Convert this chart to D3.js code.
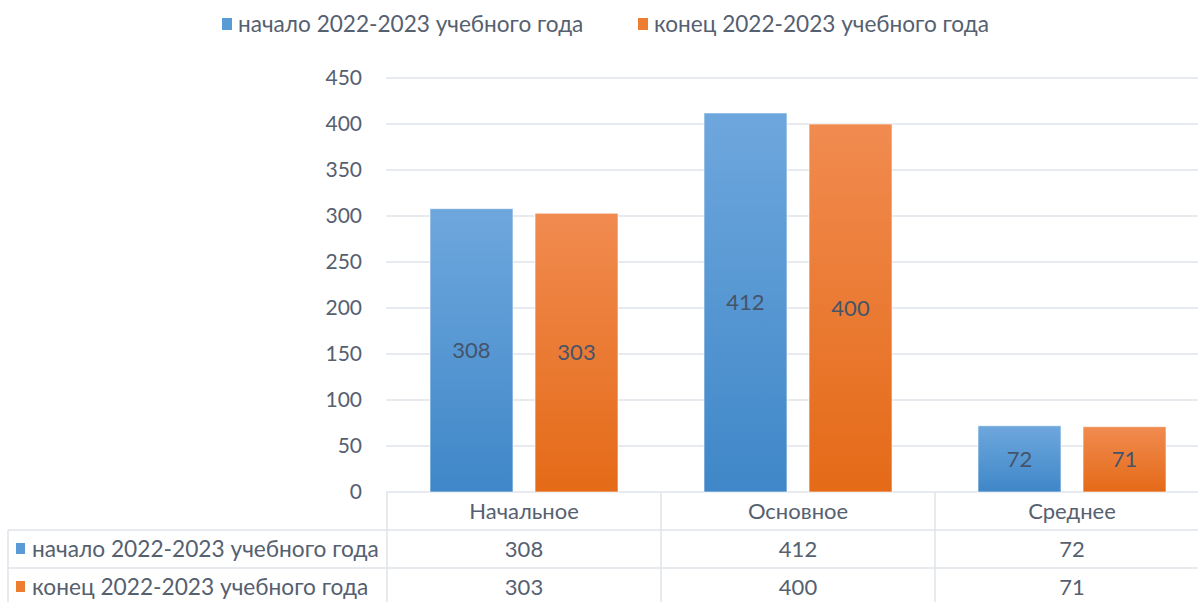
<!DOCTYPE html>
<html>
<head>
<meta charset="utf-8">
<script src="https://cdn.jsdelivr.net/npm/d3@7"></script>
<style>
  body { margin: 0; background: #fff; }
  svg { display: block; font-family: Lato, "Open Sans", sans-serif; }
</style>
</head>
<body>
<script>
// chart data
let categories = ["Начальное", "Основное", "Среднее"];
let seriesNames = ["начало 2022-2023 учебного года", "конец 2022-2023 учебного года"];
let startValues = [308, 412, 72];
let endValues = [303, 400, 71];
let yTicks = [0, 50, 100, 150, 200, 250, 300, 350, 400, 450];

let w = 1198, h = 602;
let textColor = "#556070";
let lineColor = "#dfe3ea";
let colors = ["#5b9bd5", "#ed7d31"];
let fs = 22;

let svg = d3.select("body").append("svg")
    .attr("width", w)
    .attr("height", h);

// gradients like the Excel bar fill
let defs = svg.append("defs");
let grads = [["gBlue", "#6ea7dd", "#3f87c8"], ["gOrange", "#f18b50", "#e46a17"]];
grads.forEach(function (g) {
    let lg = defs.append("linearGradient").attr("id", g[0])
        .attr("x1", 0).attr("y1", 0).attr("x2", 0).attr("y2", 1);
    lg.append("stop").attr("offset", "0%").attr("stop-color", g[1]);
    lg.append("stop").attr("offset", "100%").attr("stop-color", g[2]);
});

let plotLeft = 387, plotRight = 1209, plotTop = 78, plotBottom = 492;

let x = d3.scaleBand().domain(categories).range([plotLeft, plotRight]);
let x1 = d3.scaleBand().domain([0, 1]).range([43, x.bandwidth() - 43]).paddingInner(0.21);
let y = d3.scaleLinear().domain([0, 450]).range([plotBottom, plotTop]);

// gridlines
svg.append("g").selectAll("line").data(yTicks).enter().append("line")
    .attr("x1", plotLeft - 1).attr("x2", w)
    .attr("y1", d => y(d)).attr("y2", d => y(d))
    .attr("stroke", lineColor).attr("stroke-width", 1.5);

// y axis labels
svg.append("g").selectAll("text").data(yTicks).enter().append("text")
    .attr("x", 362).attr("y", d => y(d))
    .attr("dy", "0.35em")
    .attr("text-anchor", "end")
    .attr("fill", textColor)
    .attr("font-size", fs - 1)
    .text(d => d);

// bars
let series = [startValues, endValues];
let barG = svg.append("g");
series.forEach(function (vals, s) {
    barG.selectAll(".bar" + s).data(vals).enter().append("rect")
        .attr("class", "bar" + s)
        .attr("x", (d, i) => x(categories[i]) + x1(s))
        .attr("y", d => y(d))
        .attr("width", x1.bandwidth())
        .attr("height", d => plotBottom - y(d))
        .attr("fill", "url(#" + grads[s][0] + ")")
        .attr("stroke", "#ffffff").attr("stroke-opacity", 0.6);
    barG.selectAll(".lab" + s).data(vals).enter().append("text")
        .attr("class", "lab" + s)
        .attr("x", (d, i) => x(categories[i]) + x1(s) + x1.bandwidth() / 2)
        .attr("y", d => (y(d) + plotBottom) / 2)
        .attr("dy", "0.35em")
        .attr("text-anchor", "middle")
        .attr("fill", "#44546a")
        .attr("font-size", fs)
        .text(d => d);
});

// legend on top
let legend = [[222, 0], [638, 1]];
legend.forEach(function (l) {
    svg.append("rect").attr("x", l[0]).attr("y", 18).attr("width", 10).attr("height", 12)
        .attr("fill", colors[l[1]]);
    svg.append("text").attr("x", l[0] + 16).attr("y", 24).attr("dy", "0.35em")
        .attr("fill", textColor).attr("font-size", fs + 0.6)
        .text(seriesNames[l[1]]);
});

// data table
let rowY = [492, 530, 568, 610];
let tbl = svg.append("g").attr("stroke", lineColor).attr("stroke-width", 1.5);
tbl.append("line").attr("x1", 8).attr("x2", w).attr("y1", rowY[1]).attr("y2", rowY[1]);
tbl.append("line").attr("x1", 8).attr("x2", w).attr("y1", rowY[2]).attr("y2", rowY[2]);
tbl.append("line").attr("x1", 8).attr("x2", 8).attr("y1", rowY[1]).attr("y2", h);
tbl.selectAll(".vl").data(categories).enter().append("line")
    .attr("x1", d => x(d)).attr("x2", d => x(d))
    .attr("y1", rowY[0]).attr("y2", h);

// category row
svg.append("g").selectAll("text").data(categories).enter().append("text")
    .attr("x", d => x(d) + x.bandwidth() / 2)
    .attr("y", (rowY[0] + rowY[1]) / 2)
    .attr("dy", "0.35em")
    .attr("text-anchor", "middle")
    .attr("fill", textColor).attr("font-size", fs)
    .text(d => d);

// value rows
series.forEach(function (vals, s) {
    let cy = (rowY[s + 1] + rowY[s + 2]) / 2 + (s == 1 ? -2 : 0);
    svg.append("rect").attr("x", 16).attr("y", cy - 6).attr("width", 9).attr("height", 11)
        .attr("fill", colors[s]);
    svg.append("text").attr("x", 32).attr("y", cy).attr("dy", "0.35em")
        .attr("fill", textColor).attr("font-size", fs + 0.7)
        .text(seriesNames[s]);
    svg.append("g").selectAll("text").data(vals).enter().append("text")
        .attr("x", (d, i) => x(categories[i]) + x.bandwidth() / 2)
        .attr("y", cy).attr("dy", "0.35em")
        .attr("text-anchor", "middle")
        .attr("fill", textColor).attr("font-size", fs)
        .text(d => d);
});
</script>
</body>
</html>
